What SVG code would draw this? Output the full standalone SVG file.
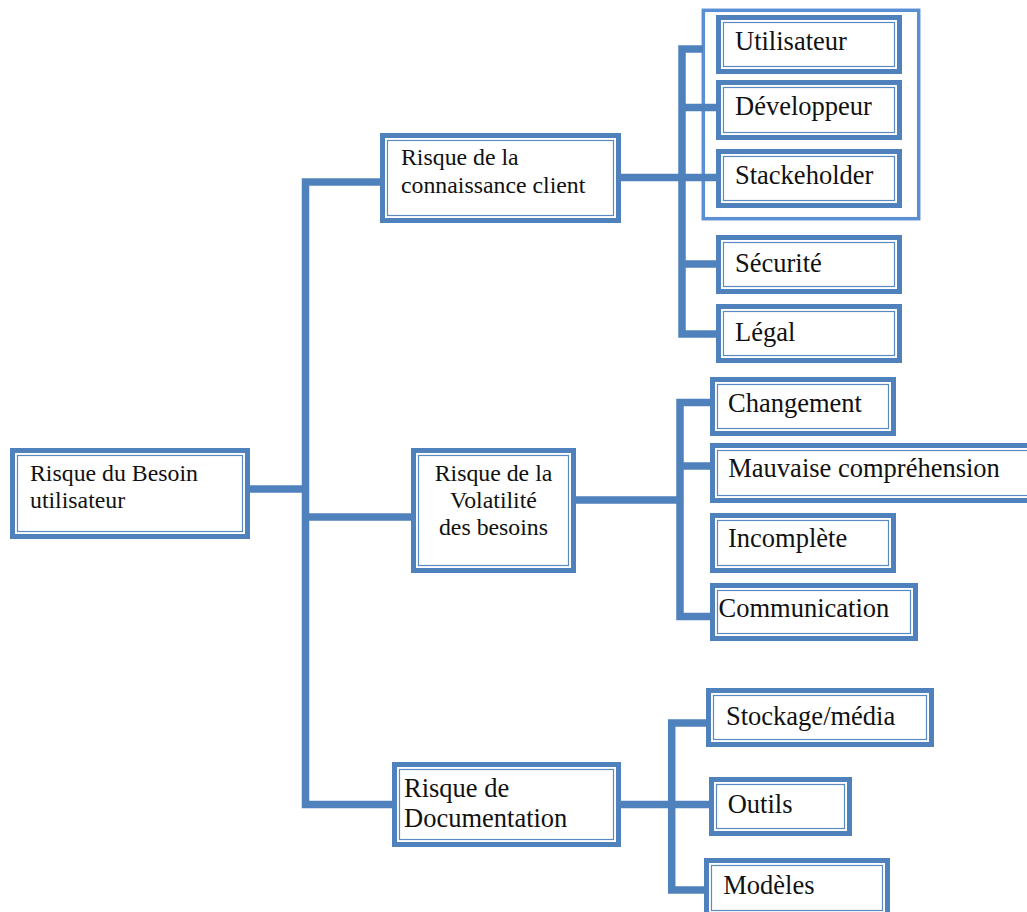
<svg xmlns="http://www.w3.org/2000/svg" width="1027" height="912" viewBox="0 0 1027 912">
  <style>
    .o { fill: #ffffff; stroke: #4F81BD; stroke-width: 5; }
    .i { fill: none; stroke: #5A8AC4; stroke-width: 1.2; }
    .wrap { fill: none; stroke: #5B8FD3; stroke-width: 3.5; }
    .ln { fill: none; stroke: #4F81BD; stroke-width: 7.5; stroke-linejoin: miter; stroke-linecap: butt; }
    text { font-family: "Liberation Serif", "Times New Roman", serif; fill: #111111; }
    .t1 { font-size: 23.8px; }
    .t2 { font-size: 26.5px; }
  </style>

  <rect x="0" y="0" width="1027" height="912" fill="#ffffff"/>

  <!-- frame around the stakeholder boxes -->
  <rect class="wrap" x="703.3" y="10.3" width="215.4" height="208.4"/>

  <g id="connectors">
    <!-- main trunk -->
    <path class="ln" d="M380,182 H305.5 V804.5 H392"/>
    <path class="ln" d="M250,489 H305.5"/>
    <path class="ln" d="M305.5,517 H411"/>
    <!-- connaissance client branch -->
    <path class="ln" d="M703,49 H682 V334 H716"/>
    <path class="ln" d="M621,177.5 H716"/>
    <path class="ln" d="M682,107.5 H716"/>
    <path class="ln" d="M682,264 H716"/>
    <!-- volatilite branch -->
    <path class="ln" d="M710,402.5 H680 V616.5 H710"/>
    <path class="ln" d="M576,500 H680"/>
    <path class="ln" d="M680,466 H710"/>
    <!-- documentation branch -->
    <path class="ln" d="M706,723 H671.7 V890 H704"/>
    <path class="ln" d="M621,804.5 H709"/>
  </g>

  <g id="root">
    <rect class="o" x="12.5" y="450.5" width="235" height="86"/>
    <rect class="i" x="17.5" y="455.5" width="225" height="76"/>
    <text class="t1" x="30" y="481">Risque du Besoin</text>
    <text class="t1" x="30" y="508">utilisateur</text>
  </g>

  <g id="connaissance">
    <rect class="o" x="382.5" y="135.5" width="236" height="85"/>
    <rect class="i" x="387.5" y="140.5" width="226" height="75"/>
    <text class="t1" x="401" y="165">Risque de la</text>
    <text class="t1" x="401" y="193">connaissance client</text>
  </g>

  <g id="volatilite">
    <rect class="o" x="413.5" y="450.5" width="160" height="120"/>
    <rect class="i" x="418.5" y="455.5" width="150" height="110"/>
    <text class="t1" x="493.5" y="481" text-anchor="middle">Risque de la</text>
    <text class="t1" x="493.5" y="508" text-anchor="middle">Volatilité</text>
    <text class="t1" x="493.5" y="535" text-anchor="middle">des besoins</text>
  </g>

  <g id="documentation">
    <rect class="o" x="394.5" y="764.5" width="224" height="80"/>
    <rect class="i" x="399.5" y="769.5" width="214" height="70"/>
    <text class="t2" x="404" y="797">Risque de</text>
    <text class="t2" x="404" y="827">Documentation</text>
  </g>

  <g id="utilisateur">
    <rect class="o" x="718.5" y="17.5" width="181" height="54"/>
    <rect class="i" x="723.5" y="22.5" width="171" height="44"/>
    <text class="t2" x="735" y="50">Utilisateur</text>
  </g>

  <g id="developpeur">
    <rect class="o" x="718.5" y="82.5" width="181" height="55"/>
    <rect class="i" x="723.5" y="87.5" width="171" height="45"/>
    <text class="t2" x="735" y="115">Développeur</text>
  </g>

  <g id="stackeholder">
    <rect class="o" x="718.5" y="151.5" width="181" height="54"/>
    <rect class="i" x="723.5" y="156.5" width="171" height="44"/>
    <text class="t2" x="735" y="183.5">Stackeholder</text>
  </g>

  <g id="securite">
    <rect class="o" x="718.5" y="237.5" width="181" height="54"/>
    <rect class="i" x="723.5" y="242.5" width="171" height="44"/>
    <text class="t2" x="735" y="272">Sécurité</text>
  </g>

  <g id="legal">
    <rect class="o" x="718.5" y="306.5" width="181" height="54"/>
    <rect class="i" x="723.5" y="311.5" width="171" height="44"/>
    <text class="t2" x="735" y="341">Légal</text>
  </g>

  <g id="changement">
    <rect class="o" x="712.5" y="379.5" width="181" height="54"/>
    <rect class="i" x="717.5" y="384.5" width="171" height="44"/>
    <text class="t2" x="728" y="412">Changement</text>
  </g>

  <g id="mauvaise-comprehension">
    <rect class="o" x="712.5" y="445.5" width="325" height="55"/>
    <rect class="i" x="717.5" y="450.5" width="315" height="45"/>
    <text class="t2" x="728.3" y="477">Mauvaise compréhension</text>
  </g>

  <g id="incomplete">
    <rect class="o" x="712.5" y="515.5" width="181" height="55"/>
    <rect class="i" x="717.5" y="520.5" width="171" height="45"/>
    <text class="t2" x="728" y="547">Incomplète</text>
  </g>

  <g id="communication">
    <rect class="o" x="712.5" y="585.5" width="203" height="53"/>
    <rect class="i" x="717.5" y="590.5" width="193" height="43"/>
    <text class="t2" x="718.5" y="617">Communication</text>
  </g>

  <g id="stockage">
    <rect class="o" x="708.5" y="690.5" width="223" height="54"/>
    <rect class="i" x="713.5" y="695.5" width="213" height="44"/>
    <text class="t2" x="726" y="724.5">Stockage/média</text>
  </g>

  <g id="outils">
    <rect class="o" x="711.5" y="779.5" width="138" height="54"/>
    <rect class="i" x="716.5" y="784.5" width="128" height="44"/>
    <text class="t2" x="727.7" y="812.5">Outils</text>
  </g>

  <g id="modeles">
    <rect class="o" x="706.5" y="860.5" width="181" height="55"/>
    <rect class="i" x="711.5" y="865.5" width="171" height="45"/>
    <text class="t2" x="723.3" y="893.5">Modèles</text>
  </g>
</svg>
